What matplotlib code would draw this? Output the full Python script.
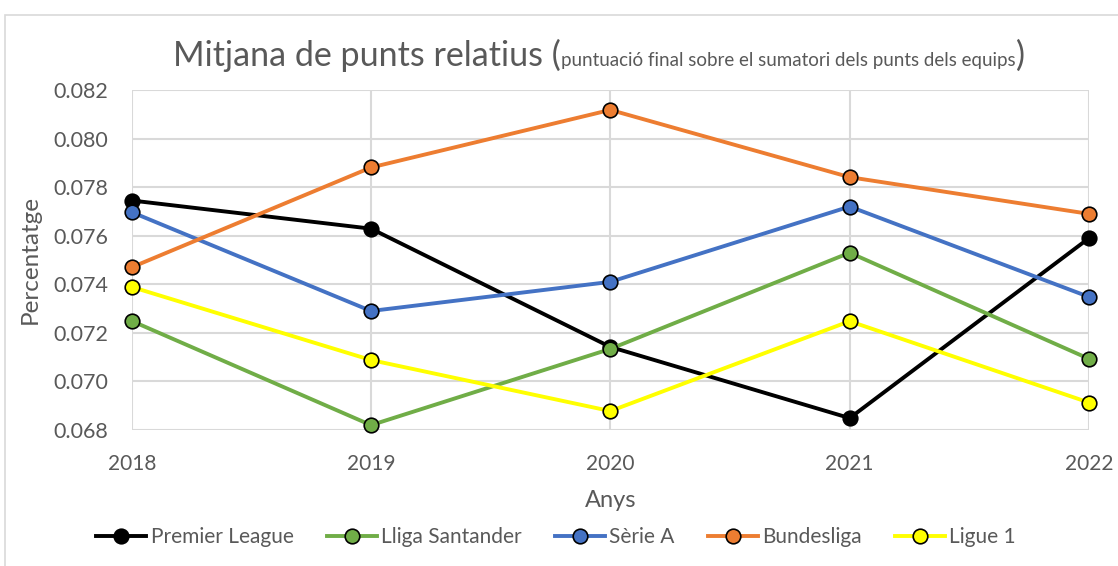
import numpy as np
import matplotlib
matplotlib.use('Agg')
import matplotlib.pyplot as plt
from matplotlib.patches import Rectangle

plt.rcParams['font.family'] = ['Lato', 'DejaVu Sans']

years = [2018, 2019, 2020, 2021, 2022]
premier = [0.07745, 0.07629, 0.07142, 0.06849, 0.07590]
liga = [0.07249, 0.06820, 0.07134, 0.07530, 0.07093]
serie_a = [0.07697, 0.07290, 0.07410, 0.07720, 0.07348]
bundesliga = [0.07470, 0.07881, 0.08118, 0.07841, 0.07690]
ligue1 = [0.07389, 0.07088, 0.06878, 0.07248, 0.06913]

series = [
    ('Premier League', premier, '#000000'),
    ('Lliga Santander', liga, '#70ad47'),
    ('Sèrie A', serie_a, '#4472c4'),
    ('Bundesliga', bundesliga, '#ed7d31'),
    ('Ligue 1', ligue1, '#ffff00'),
]

W, H = 1118, 566
fig = plt.figure(figsize=(W / 100, H / 100), dpi=100)
ax = fig.add_axes([131.7 / W, 1 - 430 / H, (1089 - 131.7) / W, 340 / H])

txt = '#595959'
grid = '#d9d9d9'

for name, vals, c in series:
    ax.plot(years, vals, color=c, lw=2.8, marker='o', ms=10.5,
            mfc=c, mec='black', mew=1.2, label=name, clip_on=False, zorder=3)

ax.set_xlim(2018, 2022)
ax.set_ylim(0.068, 0.082)
ax.set_xticks(years)
yt = np.arange(0.068, 0.0821, 0.002)
ax.set_yticks(yt)
ax.set_yticklabels(['%.3f' % v for v in yt])
ax.grid(True, color=grid, lw=1.5, zorder=0)
for s in ax.spines.values():
    s.set_visible(False)
ax.tick_params(length=0, colors=txt, labelsize=15)
ax.tick_params(axis='x', pad=17)
ax.tick_params(axis='y', pad=17, labelsize=15.5)

ax.set_xlabel('Anys', color=txt, fontsize=17, labelpad=12)
ax.set_ylabel('Percentatge', color=txt, fontsize=17.5, labelpad=9)

# title with mixed sizes
fig.canvas.draw()
r = fig.canvas.get_renderer()
parts = [('Mitjana de punts relatius (', 24.5), ('puntuació final sobre el sumatori dels punts dels equips', 13.5), (')', 24.5)]
objs = []
x = 0
for s, fs in parts:
    t = fig.text(x, 1 - 66 / H, s, fontsize=fs, color=txt, ha='left', va='baseline')
    objs.append(t)
    x += t.get_window_extent(r).width / W
x0 = 599 / W - x / 2
for t in objs:
    w = t.get_window_extent(r).width / W
    t.set_x(x0)
    x0 += w

leg = fig.legend(loc='center', bbox_to_anchor=(556 / W, 1 - 537 / H), ncol=5,
                 frameon=False, fontsize=15, handlelength=2.4, columnspacing=1.6,
                 handletextpad=0.2)
for t in leg.get_texts():
    t.set_color(txt)

fig.patches.append(Rectangle((5 / W, -0.1), 1.2, 1.1 - 15 / H, transform=fig.transFigure,
                             fill=False, edgecolor=grid, lw=1.2))

fig.savefig('out.png', dpi=100)
